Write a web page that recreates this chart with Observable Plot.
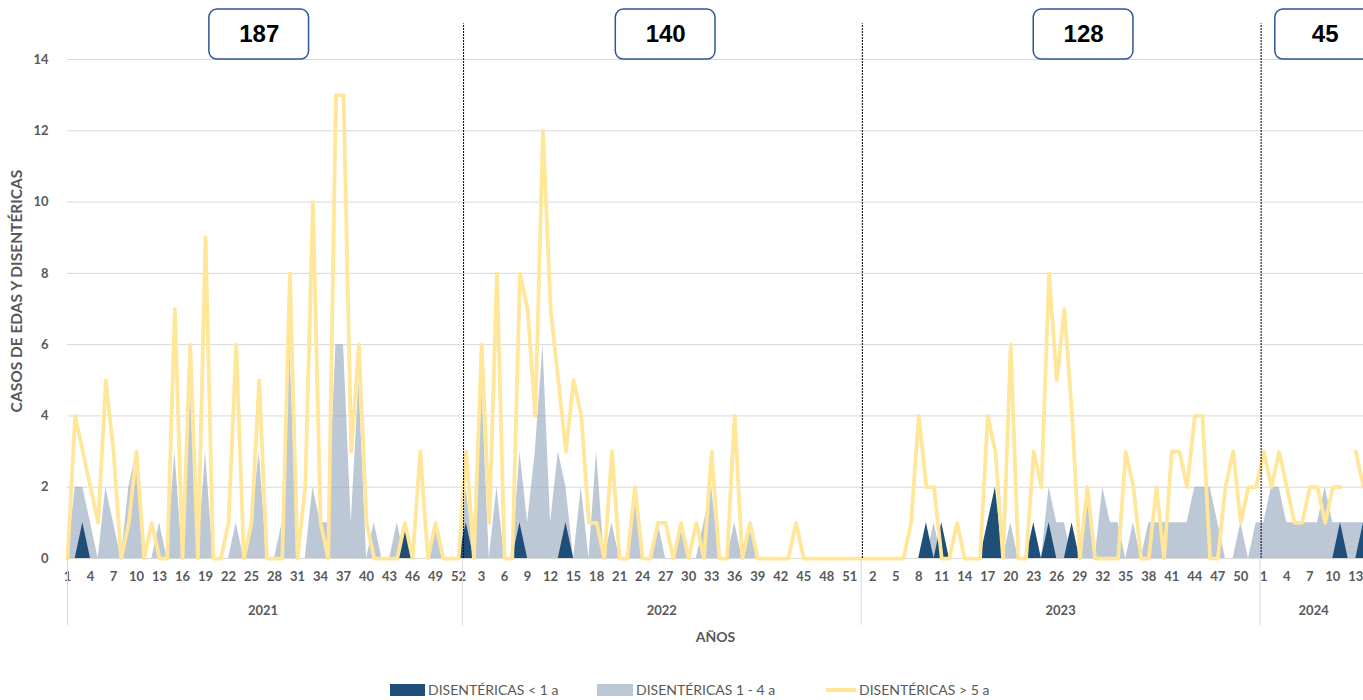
<!DOCTYPE html>
<html>
<head>
<meta charset="utf-8">
<script src="https://cdn.jsdelivr.net/npm/d3@7"></script>
<script src="https://cdn.jsdelivr.net/npm/@observablehq/plot@0.6"></script>
<style>
  html, body { margin: 0; padding: 0; background: #fff; overflow: hidden; }
  #chart svg { display: block; }
  #legend { position: relative; height: 25px; font-family: Lato, "Open Sans", sans-serif; font-size: 14px; color: #595959; }
  #legend .item { position: absolute; top: 2px; height: 25px; display: flex; align-items: center; white-space: nowrap; }
  #legend .sw { display: inline-block; margin-right: 3px; }
</style>
</head>
<body>
<div id="chart"></div>
<div id="legend"></div>
<script>
// ---- DATA ----
const years = ["2021", "2022", "2023", "2024"];
const weeksPerYear = [52, 52, 52, 14];
const yearTotals = [187, 140, 128, 45];
const yTicks = [0, 2, 4, 6, 8, 10, 12, 14];
const seriesNames = ["DISENTÉRICAS < 1 a", "DISENTÉRICAS 1 - 4 a", "DISENTÉRICAS > 5 a"];
const yTitle = "CASOS DE EDAS Y DISENTÉRICAS";
const xTitle = "AÑOS";

// DISENTÉRICAS < 1 a
const menor1 = [
  // 2021
  0,0,1,0,0,0,0,0,0,0, 0,0,0,0,0,0,0,0,0,0, 0,0,0,0,0,0,0,0,0,0,
  0,0,0,0,0,0,0,0,0,0, 0,0,0,0,1,0,0,0,0,0, 0,0,
  // 2022
  1,0,0,0,0,0,0,1,0,0, 0,0,0,1,0,0,0,0,0,0, 0,0,0,0,0,0,0,0,0,0,
  0,0,0,0,0,0,0,0,0,0, 0,0,0,0,0,0,0,0,0,0, 0,0,
  // 2023
  0,0,0,0,0,0,0,0,1,0, 1,0,0,0,0,0,1,2,0,0, 0,0,1,0,1,0,0,1,0,0,
  0,0,0,0,0,0,0,0,0,0, 0,0,0,0,0,0,0,0,0,0, 0,0,
  // 2024
  0,0,0,0,0,0,0,0,0,0, 1,0,0,1
];

// DISENTÉRICAS 1 - 4 a
const de1a4 = [
  // 2021
  0,2,2,1,0,2,1,0,2,3, 0,0,1,0,3,0,5,0,3,0, 0,0,1,0,1,3,0,0,1,6,
  0,0,2,1,1,6,6,1,5,0, 1,0,0,1,0,0,0,0,1,0, 0,0,
  // 2022
  2,0,5,0,2,0,0,3,1,3, 6,1,3,2,0,2,0,3,0,1, 0,0,2,0,0,1,0,0,1,0,
  0,1,2,0,0,1,0,1,0,0, 0,0,0,0,0,0,0,0,0,0, 0,0,
  // 2023
  0,0,0,0,0,0,0,0,0,1, 0,0,0,0,0,0,0,0,0,1, 0,0,0,0,2,1,1,0,0,2,
  0,2,1,1,0,1,0,1,1,1, 1,1,1,2,2,2,1,0,0,1, 0,1,
  // 2024
  1,2,2,1,1,1,1,1,2,1, 1,1,1,1
];

// DISENTÉRICAS > 5 a
const mayor5 = [
  // 2021
  0,4,3,2,1,5,3,0,1,3, 0,1,0,0,7,0,6,0,9,0, 0,1,6,0,1,5,0,0,0,8,
  0,2,10,1,0,13,13,3,6,1, 0,0,0,0,1,0,3,0,1,0, 0,0,
  // 2022
  3,0,6,1,8,0,0,8,7,4, 12,7,5,3,5,4,1,1,0,3, 0,0,2,0,0,1,1,0,1,0,
  1,0,3,0,0,4,0,1,0,0, 0,0,0,1,0,0,0,0,0,0, 0,0,
  // 2023
  0,0,0,0,0,0,1,4,2,2, 0,0,1,0,0,0,4,3,0,6, 0,0,3,2,8,5,7,4,0,2,
  0,0,0,0,3,2,0,0,2,0, 3,3,2,4,4,0,0,2,3,1, 2,2,
  // 2024
  3,2,3,2,1,1,2,2,1,2, 2,null,3,2
];

// ---- TABLE BUILT FROM THE ARRAYS ----
const rows = [];
const yearStart = [];
let idx = 0;
years.forEach((y, k) => {
  yearStart.push(idx);
  for (let w = 1; w <= weeksPerYear[k]; w++) {
    rows.push({i: idx, year: y, week: w, a: menor1[idx], b: de1a4[idx], c: mayor5[idx]});
    idx++;
  }
});
const n = rows.length;
const weekOf = rows.map(d => d.week);
const xTicks = d3.range(0, n, 3);
const yearInfo = years.map((y, k) => ({
  year: y,
  start: yearStart[k],
  center: yearStart[k] + (weeksPerYear[k] - 1) / 2,
  total: yearTotals[k]
}));
const separators = [0, ...yearInfo.slice(1).map(d => d.start - 0.5)];
const dashed = yearInfo.slice(1).map(d => d.start - 0.35);
// total boxes: placed near each year's centre
const boxOffset = [-0.5, 0.5, 3, 1.5];
const boxes = yearInfo.map((d, k) => ({...d, bx: d.center + boxOffset[k]}));

const DARK = "#1F4E79", LIGHT = "#8FA3BB", YELLOW = "#FFE699", TXT = "#595959";
const FONT = "Lato, 'Open Sans', sans-serif";

const chart = Plot.plot({
  width: 1363,
  height: 675,
  marginTop: 59,
  marginBottom: 117,
  marginLeft: 67,
  marginRight: 0,
  style: {fontFamily: FONT, fontSize: "13px", fontWeight: "bold", color: TXT, background: "#fff", overflow: "visible"},
  x: {domain: [0, n - 1], ticks: xTicks, tickFormat: i => weekOf[i], tickSize: 0, tickPadding: 13, label: null},
  y: {domain: [0, 14], ticks: yTicks, tickSize: 0, tickPadding: 19, label: null},
  marks: [
    Plot.ruleY(yTicks, {y: d => d, stroke: "#d9d9d9", strokeWidth: 1}),
    Plot.areaY(rows, {x: "i", y1: 0, y2: "b", fill: LIGHT, fillOpacity: 0.6}),
    Plot.areaY(rows, {x: "i", y1: 0, y2: "a", fill: DARK}),
    Plot.lineY(rows, {x: "i", y: "c", stroke: YELLOW, strokeWidth: 3.75, strokeLinejoin: "round", strokeLinecap: "round"}),
    Plot.ruleX(separators, {x: d => d, y1: 0, y2: -1.88, stroke: "#d9d9d9", strokeWidth: 1}),
    Plot.ruleX(dashed, {x: d => d, y1: 0, y2: 15, stroke: "#000", strokeWidth: 1, strokeDasharray: "2,1"}),
    Plot.rect(boxes, {x1: d => d.bx - 6.5, x2: d => d.bx + 6.5, y1: 14, y2: 15.4, fill: "#fff", stroke: "#2F5597", strokeWidth: 1.5, rx: 8}),
    Plot.text(boxes, {x: "bx", y: 14.7, text: d => String(d.total), fontSize: 24, fontWeight: "bold", fill: "#000", fontFamily: "'Liberation Sans', Arial, sans-serif"}),
    Plot.text(yearInfo, {x: "center", frameAnchor: "bottom", dy: 56, text: "year", fontSize: 13, fontWeight: "bold", fill: TXT}),
    Plot.text([xTitle], {frameAnchor: "bottom", dy: 83, text: d => d, fontSize: 14, fontWeight: "bold", fill: TXT}),
    Plot.text([yTitle], {frameAnchor: "left", textAnchor: "middle", dx: -50, dy: -18, rotate: -90, text: d => d, fontSize: 15.5, fontWeight: "bold", fill: TXT})
  ]
});
document.getElementById("chart").appendChild(chart);

// ---- LEGEND ----
const legend = document.getElementById("legend");
const legendItems = [
  {name: seriesNames[0], left: 390, sw: `<span class="sw" style="width:35px;height:12px;background:${DARK}"></span>`},
  {name: seriesNames[1], left: 597, sw: `<span class="sw" style="width:36px;height:12px;background:${LIGHT};opacity:0.6"></span>`},
  {name: seriesNames[2], left: 826, sw: `<span class="sw" style="width:30px;height:4px;background:${YELLOW}"></span>`}
];
legendItems.forEach(it => {
  const div = document.createElement("div");
  div.className = "item";
  div.style.left = it.left + "px";
  div.innerHTML = it.sw + `<span>${it.name}</span>`;
  legend.appendChild(div);
});
</script>
</body>
</html>
